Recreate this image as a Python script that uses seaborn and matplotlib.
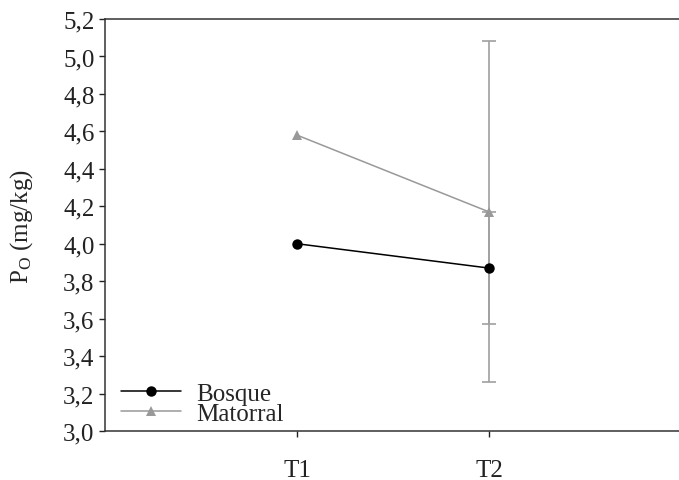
import pandas as pd
import matplotlib
matplotlib.use('Agg')
import matplotlib.pyplot as plt
import seaborn as sns

# values
tiempos = ['T1', 'T2']
x_pos = [1, 2]
bosque = [4.00, 3.87]
matorral = [4.58, 4.17]
bosque_err = [0.0, 0.30]
matorral_err = [0.0, 0.91]
y_ticks = [3.0, 3.2, 3.4, 3.6, 3.8, 4.0, 4.2, 4.4, 4.6, 4.8, 5.0, 5.2]
y_ticklabels = ['3,0', '3,2', '3,4', '3,6', '3,8', '4,0', '4,2', '4,4', '4,6', '4,8', '5,0', '5,2']

df = pd.DataFrame({
    'x': x_pos * 2,
    'valor': bosque + matorral,
    'sitio': ['Bosque'] * 2 + ['Matorral'] * 2,
})

sns.set_style('ticks')
plt.rcParams['font.family'] = ['Liberation Serif', 'DejaVu Serif']
plt.rcParams['mathtext.fontset'] = 'custom'
plt.rcParams['mathtext.rm'] = 'Liberation Serif'
plt.rcParams['mathtext.it'] = 'Liberation Serif:italic'

fig = plt.figure(figsize=(6.79, 4.81), dpi=100)
ax = fig.add_axes([105 / 679, 49 / 481, 576 / 679, 412 / 481])

# error bars only where there is a spread (T2)
for vals, errs in [(matorral, matorral_err), (bosque, bosque_err)]:
    xs = [x for x, e in zip(x_pos, errs) if e > 0]
    ys = [v for v, e in zip(vals, errs) if e > 0]
    es = [e for e in errs if e > 0]
    ax.errorbar(xs, ys, yerr=es, fmt='none', ecolor='#a0a0a0',
                elinewidth=1.2, capsize=4.7, capthick=1.2, zorder=1)

sns.lineplot(data=df, x='x', y='valor', hue='sitio', style='sitio',
             palette={'Bosque': 'black', 'Matorral': '#999999'},
             markers={'Bosque': 'o', 'Matorral': '^'}, dashes=False,
             markersize=7.5, markeredgewidth=0, linewidth=1.1,
             ax=ax, zorder=3)

ax.set_xlim(0, 3)
ax.set_ylim(3.0, 5.2)
ax.set_xticks(x_pos)
ax.set_xticklabels(tiempos)
ax.set_yticks(y_ticks)
ax.set_yticklabels(y_ticklabels)
ax.tick_params(direction='out', length=4, width=1, labelsize=18, colors='#222222')
ax.tick_params(axis='x', pad=16)
ax.set_xlabel('')
ax.set_ylabel(r'P$_\mathrm{O}$ (mg/kg)', fontsize=18, labelpad=20)

for s in ['left', 'bottom', 'top']:
    ax.spines[s].set_color('#333333')
    ax.spines[s].set_linewidth(1.1)
ax.spines['right'].set_visible(False)

leg = ax.legend(loc='lower left', bbox_to_anchor=(0.006, -0.016), frameon=False,
                fontsize=18, handlelength=2.4, handletextpad=0.6,
                labelspacing=-0.1, borderpad=0)
for line in leg.get_lines():
    line.set_linewidth(1.1)

fig.savefig('out.png', dpi=100)
